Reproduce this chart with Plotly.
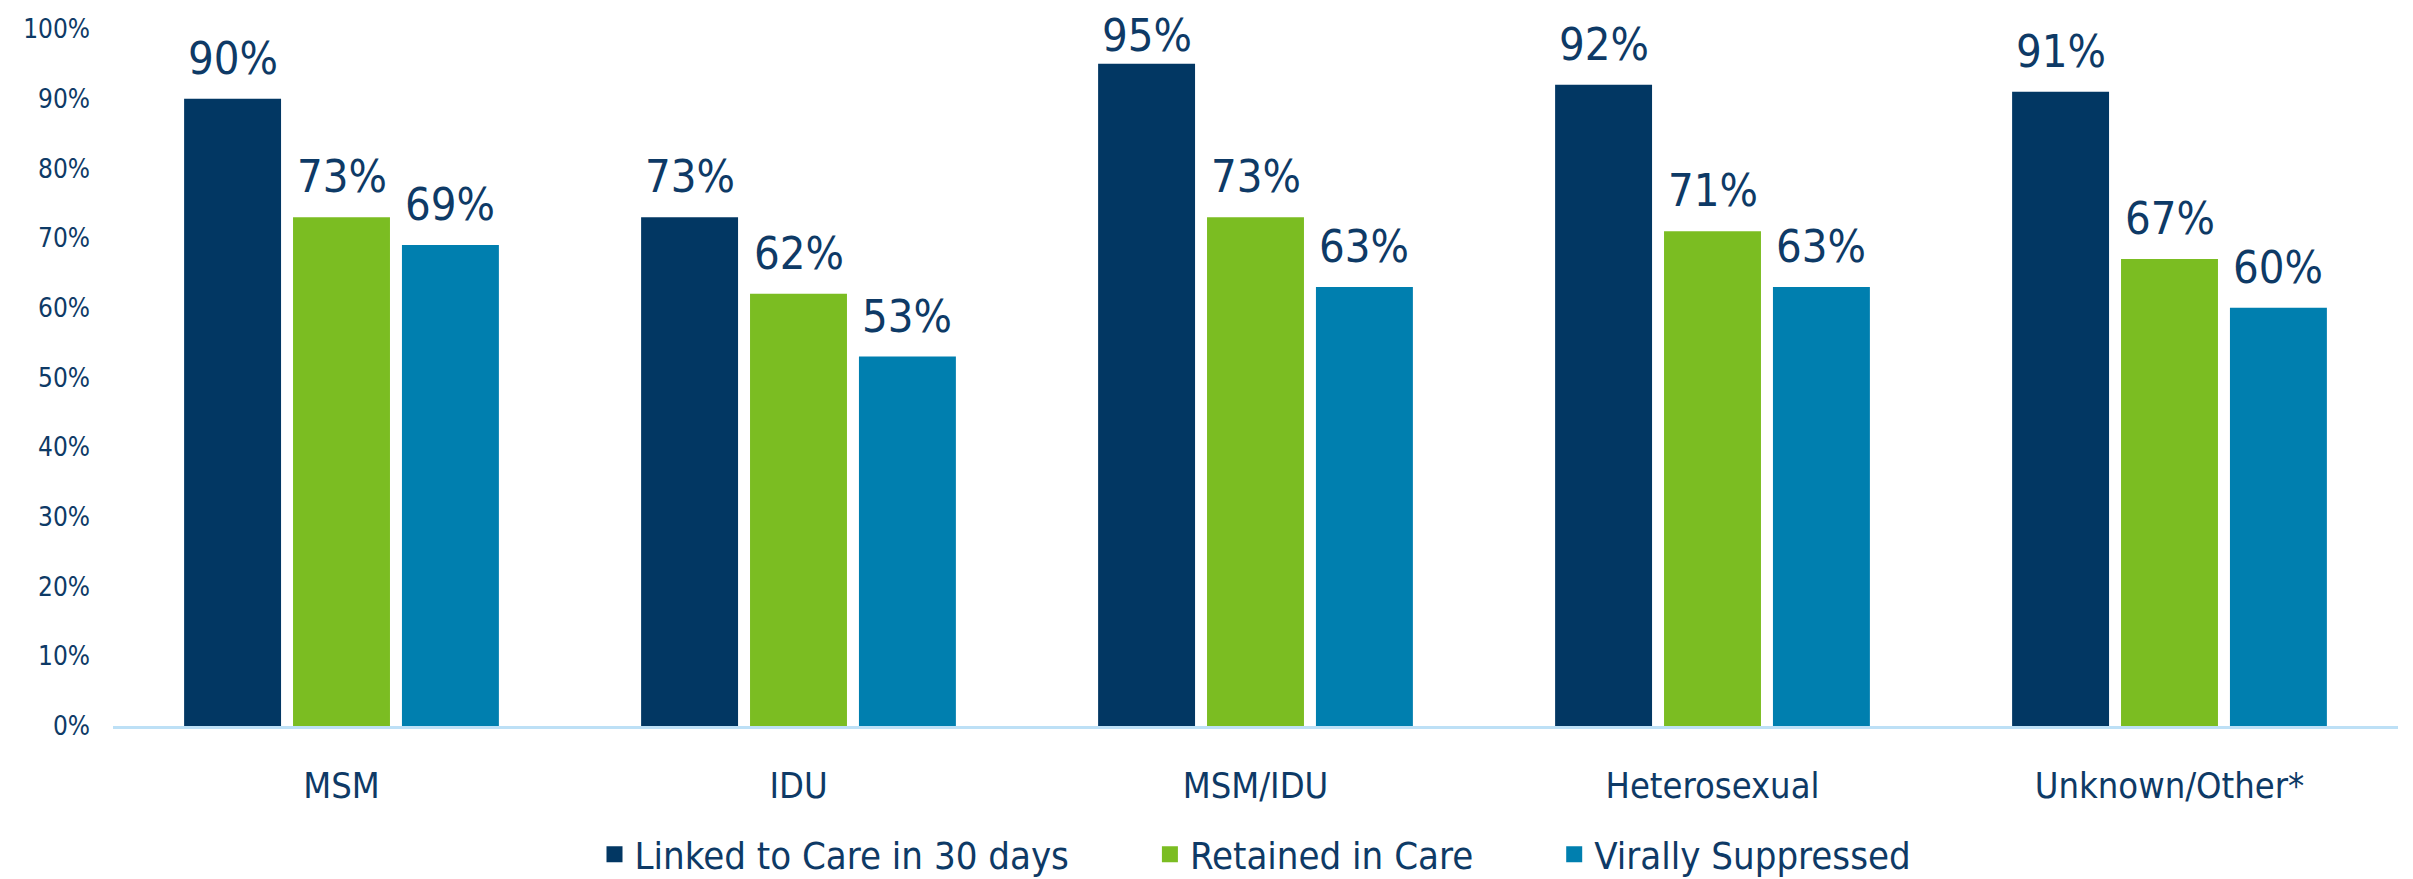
import plotly.graph_objects as go

# -------- DATOS --------
categorias = ["MSM", "IDU", "MSM/IDU", "Heterosexual", "Unknown/Other*"]
vinculados = [90, 73, 95, 92, 91]
retenidos = [73, 62, 73, 71, 67]
suprimidos = [69, 53, 63, 63, 60]

series = [
    ("Linked to Care in 30 days", vinculados, "#023763"),
    ("Retained in Care", retenidos, "#7BBD22"),
    ("Virally Suppressed", suprimidos, "#007FAF"),
]

texto = "#0E3A66"
fuente = "Liberation Sans Narrow, DejaVu Sans Condensed, Arial Narrow, sans-serif"

W, H = 2413, 879
ML, MR, MT, MB = 105, 23, 21, 161
BARGAP, GROUPGAP = 0.285, 0.11

fig = go.Figure()
for nombre, valores, color in series:
    fig.add_trace(go.Bar(
        x=categorias,
        y=[v / 100 for v in valores],
        name=nombre,
        showlegend=False,
        marker=dict(color=color, line=dict(width=0)),
        hoverinfo="x+y",
    ))

# etiquetas de valor sobre cada barra (desplazadas al centro de su barra)
ancho_cat = (W - ML - MR) / len(categorias)
paso = ancho_cat * (1 - BARGAP) / len(series)
for i, (nombre, valores, color) in enumerate(series):
    for cat, v in zip(categorias, valores):
        fig.add_annotation(
            x=cat, y=v / 100, xref="x", yref="y",
            text=f"{v}%", showarrow=False,
            # como en el original, la etiqueta más alta se acerca a su barra para caber
            xshift=(i - 1) * paso, yshift=12 if v < 94 else 0, yanchor="bottom",
            font=dict(size=45, color=texto, family=fuente),
        )

# entradas de leyenda con cuadrados grandes
espacio = "\u00a0" * 7
for j, (nombre, valores, color) in enumerate(series):
    fig.add_trace(go.Scatter(
        x=[None], y=[None], mode="markers",
        name=nombre + (espacio if j < len(series) - 1 else ""),
        marker=dict(symbol="square", size=16, color=color),
    ))

fig.update_layout(
    width=W, height=H,
    margin=dict(l=ML, r=MR, t=MT, b=MB),
    barmode="group",
    bargap=BARGAP,
    bargroupgap=GROUPGAP,
    plot_bgcolor="white",
    paper_bgcolor="white",
    font=dict(family=fuente, color=texto),
    showlegend=True,
    legend=dict(
        orientation="h", x=0.5, xanchor="center",
        yref="container", y=0.037, yanchor="middle",
        font=dict(size=38, color=texto), itemwidth=30, traceorder="normal",
    ),
    xaxis=dict(
        showline=True, linecolor="#BDE0F6", linewidth=3, automargin=False,
        tickfont=dict(size=36, color=texto), ticks="", ticklabelstandoff=26,
    ),
    yaxis=dict(
        range=[0, 1], dtick=0.1, tickformat=".0%", showgrid=False, zeroline=False,
        automargin=False,
        tickfont=dict(size=26, color=texto), ticklabelstandoff=22,
    ),
)

fig.write_html("out.html")
